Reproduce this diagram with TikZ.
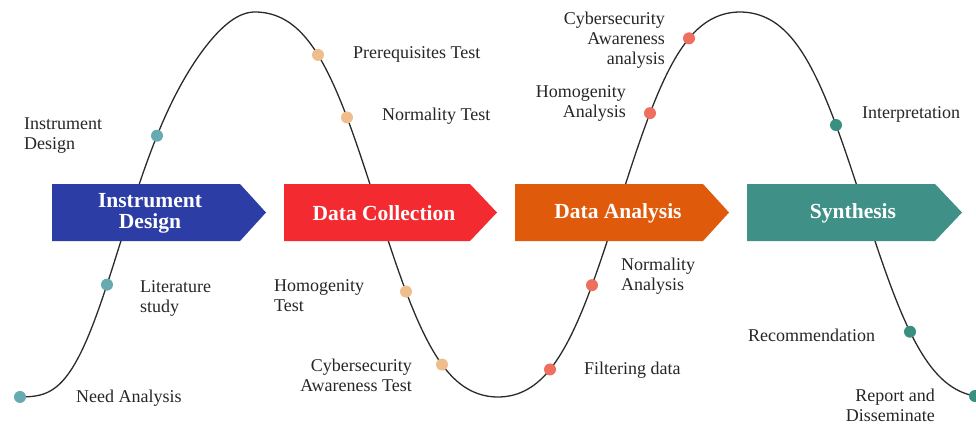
\documentclass[tikz,border=0pt]{standalone}
\usepackage{fontspec}
\setmainfont{Liberation Serif}
\definecolor{cblue}{HTML}{2C3EA6}
\definecolor{cred}{HTML}{F42A31}
\definecolor{corange}{HTML}{E05A0C}
\definecolor{cteal}{HTML}{3F9086}
\definecolor{dteal}{HTML}{67AAB2}
\definecolor{dpeach}{HTML}{F0BE8C}
\definecolor{dsalmon}{HTML}{EE6E60}
\definecolor{ddteal}{HTML}{3A9080}
\definecolor{curvec}{HTML}{2A2A2A}
\tikzset{
  dot/.style={circle,inner sep=0pt,minimum size=12pt,fill=#1},
  lbl/.style={inner sep=0pt,font=\fontsize{18}{20}\selectfont,text=black!85},
  stagetext/.style={inner sep=0pt,text=white,align=center,font=\bfseries\fontsize{21.5}{21}\selectfont},
  declare function={
    wG(\zS,\zK,\zM)=\zS+\zK*(\zS-\zS*\zS*\zS)+\zM*(\zS*\zS-\zS*\zS*\zS*\zS);
    yup(\zX,\zA,\zB,\zK,\zM)=204.5-192.5*wG(-cos((\zX-\zA)/(\zB-\zA)*180),\zK,\zM);
    ydn(\zX,\zA,\zB,\zK,\zM)=204.5-192.5*wG(cos((\zX-\zA)/(\zB-\zA)*180),\zK,\zM);
    fa(\zX)=yup(\zX,10,255,0.25,-0.25);
    fb(\zX)=ydn(\zX,255,498,0.25,0);
    fc(\zX)=yup(\zX,498,740,0.25,0);
    fd(\zX)=ydn(\zX,740,986,0.25,0);
  }
}
\begin{document}
\begin{tikzpicture}[x=1pt,y=-1pt]
\useasboundingbox (0,0) rectangle (976,425);
% wave
\draw[curvec,line width=1.3pt,line join=round]
  plot[domain=20:255,samples=90,variable=\t] (\t,{fa(\t)})
  -- plot[domain=255:498,samples=90,variable=\t] (\t,{fb(\t)})
  -- plot[domain=498:740,samples=90,variable=\t] (\t,{fc(\t)})
  -- plot[domain=740:975,samples=90,variable=\t] (\t,{fd(\t)});
% stage arrows
\fill[cblue] (52,184) -- (240,184) -- (266,212.5) -- (240,241) -- (52,241) -- cycle;
\fill[cred] (284,184) -- (470,184) -- (497,212.5) -- (470,241) -- (284,241) -- cycle;
\fill[corange] (515,184) -- (703,184) -- (729,212.5) -- (703,241) -- (515,241) -- cycle;
\fill[cteal] (747,184) -- (935,184) -- (962,212.5) -- (935,241) -- (747,241) -- cycle;
\node[stagetext] (s1) at (150,213.5) {Instrument\\Design};
\node[stagetext] (s2) at (384,213) {Data Collection};
\node[stagetext] (s3) at (618,213) {Data Analysis};
\node[stagetext] (s4) at (853,213) {Synthesis};
% dots
\node[dot=dteal] (d1) at (20,{fa(20)}) {};
\node[dot=dteal] (d2) at (107,{fa(107)}) {};
\node[dot=dteal] (d3) at (157,{fa(157)}) {};
\node[dot=dpeach] (d4) at (318,{fb(318)}) {};
\node[dot=dpeach] (d5) at (347,{fb(347)}) {};
\node[dot=dpeach] (d6) at (406,{fb(406)}) {};
\node[dot=dpeach] (d7) at (442,{fb(442)}) {};
\node[dot=dsalmon] (d8) at (550,{fc(550)}) {};
\node[dot=dsalmon] (d9) at (592,{fc(592)}) {};
\node[dot=dsalmon] (d10) at (650,{fc(650)}) {};
\node[dot=dsalmon] (d11) at (689,{fc(689)}) {};
\node[dot=ddteal] (d12) at (836,{fd(836)}) {};
\node[dot=ddteal] (d13) at (910,{fd(910)}) {};
\node[dot=ddteal] (d14) at (975,{fd(975)}) {};
% labels
\node[lbl,anchor=west,align=left] (l1) at (24,135.5) {Instrument\\Design};
\node[lbl,anchor=west,align=left] (l2) at (140,298.5) {Literature\\study};
\node[lbl,anchor=west] (l3) at (76,398) {Need Analysis};
\node[lbl,anchor=west] (l4) at (353,54) {Prerequisites Test};
\node[lbl,anchor=west] (l5) at (382,116) {Normality Test};
\node[lbl,anchor=west,align=left] (l6) at (274,295.5) {Homogenity\\Test};
\node[lbl,anchor=east,align=right] (l7) at (412,375) {Cybersecurity\\Awareness Test};
\node[lbl,anchor=east,align=right] (l8) at (665,40.5) {Cybersecurity\\Awareness\\analysis};
\node[lbl,anchor=east,align=right] (l9) at (626,103.5) {Homogenity\\Analysis};
\node[lbl,anchor=west] (l10) at (862,114) {Interpretation};
\node[lbl,anchor=west,align=left] (l11) at (621,276) {Normality\\Analysis};
\node[lbl,anchor=west] (l12) at (584,370) {Filtering data};
\node[lbl,anchor=west] (l13) at (748,335) {Recommendation};
\node[lbl,anchor=east,align=right] (l14) at (935,405) {Report and\\Disseminate};
\end{tikzpicture}
\end{document}
